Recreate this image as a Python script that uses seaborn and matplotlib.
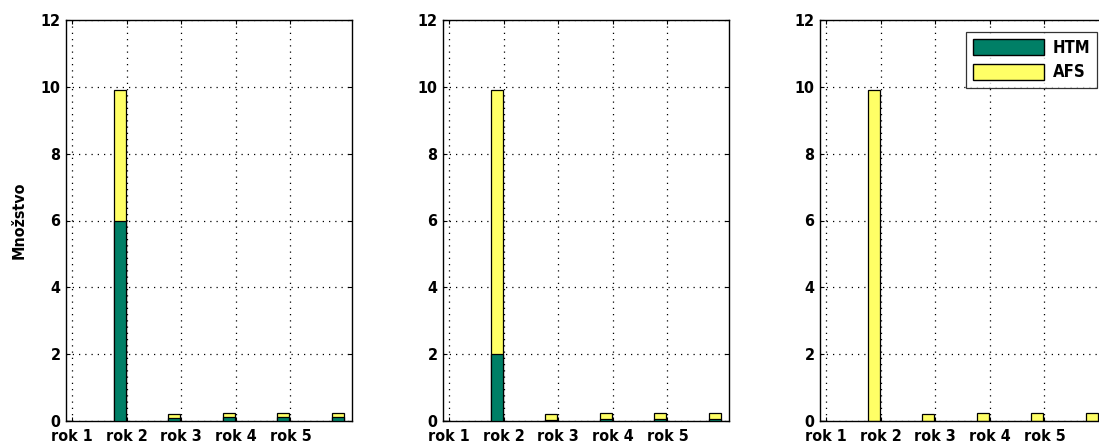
import matplotlib
matplotlib.use("Agg")
import matplotlib.pyplot as plt
from matplotlib.patches import Patch
import pandas as pd
import seaborn as sns

# Year labels on the x axis and the six bar slots per panel
years = ["rok 1", "rok 2", "rok 3", "rok 4", "rok 5"]
slots = [1, 2, 3, 4, 5, 6]

# HTM and AFS amounts (stacked) for the three panels
htm_1 = [0, 6.0, 0.1, 0.12, 0.12, 0.12]
afs_1 = [0, 3.9, 0.1, 0.12, 0.12, 0.12]
htm_2 = [0, 2.0, 0.04, 0.05, 0.05, 0.05]
afs_2 = [0, 7.9, 0.16, 0.2, 0.2, 0.2]
htm_3 = [0, 0, 0, 0, 0, 0]
afs_3 = [0, 9.9, 0.2, 0.24, 0.24, 0.24]

ylabel = "Množstvo"
series_names = ["HTM", "AFS"]
green = "#007f66"
yellow = "#ffff66"

sns.set_theme(style="white")
plt.rcParams["font.family"] = ["DejaVu Sans"]
plt.rcParams["font.stretch"] = "condensed"
plt.rcParams["font.weight"] = "bold"
plt.rcParams["text.color"] = "black"
plt.rcParams["xtick.color"] = "black"
plt.rcParams["ytick.color"] = "black"
plt.rcParams["axes.labelcolor"] = "black"

W, H = 1099, 443
fig = plt.figure(figsize=(W / 100, H / 100), dpi=100)
fig.patch.set_facecolor("white")

panel_left = [66, 443, 820]
ax_w, ax_h, ax_bottom = 286, 401, 22
offset = -0.13  # bars sit slightly left of their slot

panels = [(htm_1, afs_1), (htm_2, afs_2), (htm_3, afs_3)]
for i, (htm, afs) in enumerate(panels):
    ax = fig.add_axes([panel_left[i] / W, ax_bottom / H, ax_w / W, ax_h / H])
    df = pd.DataFrame({
        "x": [s + offset for s in slots],
        "htm": htm,
        "total": [a + b for a, b in zip(htm, afs)],
    })
    sns.barplot(data=df, x="x", y="total", native_scale=True, color=yellow,
                saturation=1, width=0.22, edgecolor="black", linewidth=0.9,
                errorbar=None, ax=ax, zorder=3)
    sns.barplot(data=df, x="x", y="htm", native_scale=True, color=green,
                saturation=1, width=0.22, edgecolor="black", linewidth=0.9,
                errorbar=None, ax=ax, zorder=4)
    ax.set_xlim(0.89, 0.89 + ax_w / 54.6)
    ax.set_ylim(0, 12)
    ax.set_xticks(range(1, len(years) + 1))
    ax.set_xticklabels(years)
    ax.set_yticks(range(0, 13, 2))
    ax.set_xlabel("")
    ax.set_ylabel(ylabel if i == 0 else "", fontsize=11.5, fontweight="bold", labelpad=10)
    ax.grid(True, color="black", linestyle=(0, (1, 4)), linewidth=0.9, zorder=1)
    ax.set_axisbelow(True)
    ax.tick_params(axis="both", direction="in", length=3, width=0.8, color="black",
                   labelsize=11.5, top=True, right=True, bottom=True, left=True)
    ax.tick_params(axis="x", pad=6)
    ax.tick_params(axis="y", pad=4)
    for lab in ax.get_xticklabels() + ax.get_yticklabels():
        lab.set_fontweight("bold")
    for sp in ax.spines.values():
        sp.set_visible(True)
        sp.set_color("black")
        sp.set_linewidth(1.0)
    if i == 2:
        handles = [Patch(facecolor=green, edgecolor="black", label=series_names[0]),
                   Patch(facecolor=yellow, edgecolor="black", label=series_names[1])]
        leg = ax.legend(handles=handles, loc="upper right",
                        bbox_to_anchor=((1097 - 820) / ax_w, 1 - 12 / ax_h),
                        borderaxespad=0, frameon=True, fancybox=False, edgecolor="black",
                        handlelength=4.3, handleheight=1.1, handletextpad=0.5,
                        borderpad=0.4, labelspacing=0.4, prop={"weight": "bold", "size": 12})
        leg.get_frame().set_linewidth(0.9)

fig.savefig("out.png", dpi=100, facecolor="white")
